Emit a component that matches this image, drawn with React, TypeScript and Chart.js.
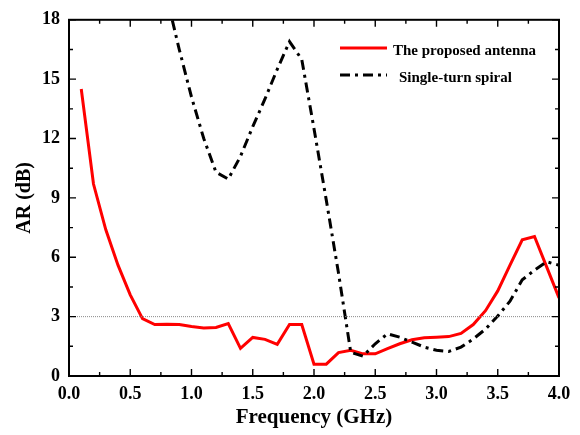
import React, { useEffect, useRef } from "react";
import Chart from "chart.js/auto";

const freqProposed = [0.1,0.2,0.3,0.4,0.5,0.6,0.7,0.8,0.9,1.0,1.1,1.2,1.3,1.4,1.5,1.6,1.7,1.8,1.9,2.0,2.1,2.2,2.3,2.4,2.5,2.6,2.7,2.8,2.9,3.0,3.1,3.2,3.3,3.4,3.5,3.6,3.7,3.8,3.9,4.0];
const arProposed = [14.5,9.7,7.4,5.6,4.1,2.9,2.6,2.62,2.6,2.5,2.43,2.45,2.65,1.4,1.95,1.85,1.6,2.6,2.6,0.6,0.6,1.18,1.3,1.12,1.12,1.38,1.63,1.83,1.93,1.96,1.99,2.15,2.6,3.3,4.3,5.6,6.88,7.05,5.5,3.95];

const freqSpiral = [0.8,0.9,1.0,1.1,1.2,1.3,1.4,1.5,1.6,1.7,1.8,1.9,2.0,2.1,2.2,2.3,2.4,2.5,2.6,2.7,2.8,2.9,3.0,3.1,3.2,3.3,3.4,3.5,3.6,3.7,3.8,3.9,4.0];
const arSpiral = [19.1,16.5,14.1,12.0,10.3,9.95,11.1,12.6,14.0,15.5,16.9,16.0,12.5,8.9,5.2,1.2,1.0,1.63,2.13,1.96,1.71,1.46,1.3,1.24,1.46,1.87,2.37,3.03,3.78,4.86,5.35,5.77,5.6];

const xTicks = [0,0.5,1.0,1.5,2.0,2.5,3.0,3.5,4.0];
const xMinorTicks = [0.25,0.75,1.25,1.75,2.25,2.75,3.25,3.75];
const yTicks = [0,3,6,9,12,15,18];
const yMinorTicks = [1.5,4.5,7.5,10.5,13.5,16.5];
const refLevel = 3;

const legendLabels = ["The proposed antenna", "Single-turn spiral"];

const FONT = "'Liberation Serif', 'Times New Roman', serif";
const RED = "#ff0000";
const BLACK = "#000000";
const SPIRAL_DASH = [10, 5, 3, 5];

const framePlugin = {
  id: "frame",
  afterDraw(chart: any) {
    const { ctx, chartArea } = chart;
    const xs = chart.scales.x;
    const ys = chart.scales.y;
    const { left, right, top, bottom } = chartArea;
    ctx.save();
    ctx.strokeStyle = "#000";
    ctx.lineWidth = 2;
    ctx.setLineDash([]);
    ctx.strokeRect(left, top, right - left, bottom - top);
    ctx.lineWidth = 1.4;
    const major = 7;
    const minor = 4;
    const drawX = (v: number, len: number) => {
      const px = xs.getPixelForValue(v);
      ctx.beginPath();
      ctx.moveTo(px, bottom);
      ctx.lineTo(px, bottom - len);
      ctx.moveTo(px, top);
      ctx.lineTo(px, top + len);
      ctx.stroke();
    };
    const drawY = (v: number, len: number) => {
      const py = ys.getPixelForValue(v);
      ctx.beginPath();
      ctx.moveTo(left, py);
      ctx.lineTo(left + len, py);
      ctx.moveTo(right, py);
      ctx.lineTo(right - len, py);
      ctx.stroke();
    };
    xTicks.forEach((v) => drawX(v, major));
    xMinorTicks.forEach((v) => drawX(v, minor));
    yTicks.forEach((v) => drawY(v, major));
    yMinorTicks.forEach((v) => drawY(v, minor));

    // legend
    const lx0 = 340, lx1 = 387;
    const rows = [
      { y: 48, color: RED, dash: [] as number[], textX: 393, textY: 51, label: legendLabels[0] },
      { y: 75, color: BLACK, dash: SPIRAL_DASH, textX: 399, textY: 78, label: legendLabels[1] },
    ];
    rows.forEach((r) => {
      ctx.beginPath();
      ctx.strokeStyle = r.color;
      ctx.lineWidth = 3;
      ctx.setLineDash(r.dash);
      ctx.moveTo(lx0, r.y);
      ctx.lineTo(lx1, r.y);
      ctx.stroke();
      ctx.setLineDash([]);
      ctx.fillStyle = "#000";
      ctx.font = `bold 15px ${FONT}`;
      ctx.textAlign = "left";
      ctx.textBaseline = "middle";
      ctx.fillText(r.label, r.textX, r.textY);
    });
    ctx.restore();
  },
};

export default function App() {
  const canvasRef = useRef<HTMLCanvasElement | null>(null);

  useEffect(() => {
    document.body.style.margin = "0";
    const canvas = canvasRef.current;
    if (!canvas) return;
    const chart = new Chart(canvas, {
      type: "line",
      data: {
        datasets: [
          {
            label: "ref",
            data: [{ x: 0, y: refLevel }, { x: 4, y: refLevel }],
            borderColor: "#8a8a8a",
            borderWidth: 1,
            borderDash: [1, 1],
            pointRadius: 0,
            fill: false,
          },
          {
            label: legendLabels[1],
            data: freqSpiral.map((f, i) => ({ x: f, y: arSpiral[i] })),
            borderColor: BLACK,
            borderWidth: 3,
            borderDash: SPIRAL_DASH,
            pointRadius: 0,
            tension: 0,
            fill: false,
          },
          {
            label: legendLabels[0],
            data: freqProposed.map((f, i) => ({ x: f, y: arProposed[i] })),
            borderColor: RED,
            borderWidth: 3,
            pointRadius: 0,
            tension: 0,
            fill: false,
          },
        ],
      },
      options: {
        animation: false,
        responsive: false,
        maintainAspectRatio: false,
        layout: { padding: { left: 0, right: 21, top: 14, bottom: 0 } },
        plugins: {
          legend: { display: false },
          tooltip: { enabled: false },
        },
        scales: {
          x: {
            type: "linear",
            min: 0,
            max: 4,
            grid: { display: false, drawTicks: false },
            border: { display: false },
            afterBuildTicks: (scale: any) => {
              scale.ticks = xTicks.map((v) => ({ value: v }));
            },
            ticks: {
              padding: 8,
              color: "#000",
              font: { family: FONT, size: 18, weight: "bold" },
              callback: (v: any) => Number(v).toFixed(1),
              maxRotation: 0,
            },
            title: {
              display: true,
              text: "Frequency (GHz)",
              color: "#000",
              font: { family: FONT, size: 21, weight: "bold" },
              padding: 5,
            },
            afterFit: (scale: any) => {
              scale.height = 59;
            },
          },
          y: {
            type: "linear",
            min: 0,
            max: 18,
            grid: { display: false, drawTicks: false },
            border: { display: false },
            afterBuildTicks: (scale: any) => {
              scale.ticks = yTicks.map((v) => ({ value: v }));
            },
            ticks: {
              padding: 9,
              color: "#000",
              font: { family: FONT, size: 18, weight: "bold" },
              callback: (v: any) => String(v),
            },
            title: {
              display: true,
              text: "AR (dB)",
              color: "#000",
              font: { family: FONT, size: 20, weight: "bold" },
              padding: 13,
            },
            afterFit: (scale: any) => {
              scale.width = 69;
            },
          },
        },
      },
      plugins: [framePlugin],
    });
    return () => chart.destroy();
  }, []);

  return (
    <div style={{ position: "absolute", left: 0, top: 0, width: 580, height: 435, background: "#fff" }}>
      <canvas ref={canvasRef} width={580} height={435} style={{ display: "block" }} />
    </div>
  );
}
